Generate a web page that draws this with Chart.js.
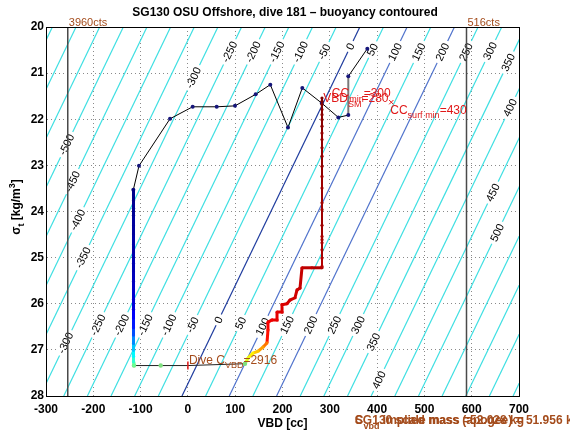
<!DOCTYPE html>
<html>
<head>
<meta charset="utf-8">
<script src="https://cdn.jsdelivr.net/npm/chart.js@4/dist/chart.umd.min.js"></script>
<style>
  html, body { margin: 0; padding: 0; background: #fff; }
  #chart { display: block; }
</style>
</head>
<body>
<canvas id="chart" width="570" height="439"></canvas>
<script>
// axis ticks
const xTicks = [-300, -200, -100, 0, 100, 200, 300, 400, 500, 600, 700];
const yTicks = [20, 21, 22, 23, 24, 25, 26, 27, 28];

// buoyancy contour levels [g]; a contour crosses sigma 28 at level + offset and leans by slope cc per kg/m3
const contourLevels = [-650, -600, -550, -500, -450, -400, -350, -300, -250, -200, -150, -100, -50,
    0, 50, 100, 150, 200, 250, 300, 350, 400, 450, 500, 550, 600, 650, 700];
const contourOffset = -12.5;
const contourSlope = 47;
// contour labels: [level, sigma where the label sits]
const contourLabels = [
    [-300, 21.10], [-250, 20.54], [-200, 20.54], [-150, 20.54], [-100, 20.54], [-50, 20.54],
    [0, 20.42], [50, 20.49], [100, 20.54], [150, 20.54], [200, 20.54], [250, 20.54], [300, 20.52],
    [350, 20.77], [400, 21.75], [450, 23.59], [500, 24.46],
    [-500, 22.55], [-450, 23.35], [-400, 24.18], [-350, 25.0], [-300, 26.85],
    [-250, 26.46], [-200, 26.46], [-150, 26.46], [-100, 26.46], [-50, 26.46], [0, 26.35],
    [50, 26.42], [100, 26.5], [150, 26.46], [200, 26.46], [250, 26.46], [300, 26.46],
    [350, 26.83], [400, 27.65]
];

// VBD count limits
const limitVbd = [-254, 589];
const limitNames = ["3960cts", "516cts"];

// black profile with dots
const profileVbd = [-115.4, -103.4, -37.8, 10.1, 60.9, 99.6, 143.3, 174.2, 211.6, 241.9, 282.9, 318.0, 339.1, 339.1, 379.3];
const profileSigma = [23.53, 23.01, 21.99, 21.73, 21.73, 21.71, 21.46, 21.25, 22.18, 21.32, 21.65, 21.96, 21.91, 21.07, 20.47];

// dive, coloured by time (0..1, jet)
const descentVbd = [-115, -115, -115, -115, -115, -115, -115, -115, -115, -115, -115, -115, -115,
    -115, -115, -115, -115, -115, -115, -115, -115, -115, -114];
const descentSigma = [23.53, 23.64, 23.76, 23.93, 24.08, 24.31, 24.49, 24.72, 24.88, 25.13, 25.29, 25.52,
    25.68, 25.91, 26.12, 26.31, 26.52, 26.68, 26.86, 27.01, 27.14, 27.26, 27.34];
const descentTime = [0.0, 0.01, 0.01, 0.02, 0.02, 0.03, 0.03, 0.04, 0.04, 0.05, 0.05, 0.06,
    0.07, 0.08, 0.09, 0.12, 0.15, 0.2, 0.26, 0.32, 0.37, 0.42, 0.48];

const apogeeVbd = [-114, -57.5, 0, 120.7];
const apogeeSigma = [27.34, 27.34, 27.34, 27.30];

const ascentVbd = [120.7, 127.0, 137.6, 148.2, 158.8, 167.2, 169.3, 169.3, 177.8, 188.4, 188.4, 199.0, 199.0,
    209.5, 215.9, 226.4, 230.7, 237.0, 241.2, 262.0, 283.5, 283.5, 283.5, 283.5, 283.5, 283.5, 283.5,
    283.5, 283.5, 283.5, 283.5, 283.5, 283.5, 283.5, 283.5, 283.5, 283.5, 283.5, 283.5, 283.5, 283.5,
    283.5, 283.5, 283.5];
const ascentSigma = [27.30, 27.18, 27.07, 27.03, 26.94, 26.85, 26.57, 26.40, 26.35, 26.35, 26.18, 26.18, 26.02,
    26.00, 25.92, 25.87, 25.70, 25.66, 25.22, 25.22, 25.22, 25.19, 25.01, 24.83, 24.68, 24.61, 24.54,
    24.30, 23.96, 23.81, 23.49, 23.24, 23.02, 22.80, 22.62, 22.44, 22.30, 22.15, 22.01, 21.90, 21.79,
    21.68, 21.61, 21.54];
const ascentTime = [0.5, 0.6, 0.64, 0.68, 0.72, 0.76, 0.86, 0.88, 0.89, 0.9, 0.9, 0.91, 0.91,
    0.91, 0.92, 0.92, 0.92, 0.93, 0.93, 0.94, 0.95, 0.95, 0.95, 0.96, 0.96, 0.96, 0.96,
    0.97, 0.97, 0.97, 0.97, 0.97, 0.98, 0.98, 0.98, 0.98, 0.98, 0.99, 0.99, 0.99, 0.99,
    1.0, 1.0, 1.0];

// surface minimum marker
const ccSurfMin = [430, 21.63];

const FONT = '"Liberation Sans", Arial, Helvetica, sans-serif';
const BROWN = "#a44c1c";
const RED = "#e01818";

function jet(t) {
    const c = (v) => Math.round(Math.max(0, Math.min(1, v)) * 255);
    const r = c(Math.min(4 * t - 1.5, -4 * t + 4.5));
    const g = c(Math.min(4 * t - 0.5, -4 * t + 3.5));
    const b = c(Math.min(4 * t + 0.5, -4 * t + 2.5));
    return `rgb(${r},${g},${b})`;
}

function contourVbd(level, sigma) {
    return level + contourOffset + contourSlope * (28 - sigma);
}

function contourColor(level) {
    if (level === 0) return "#1f3c9e";
    if (level === 100 || level === 200) return "#5073cc";
    return "#3fdfe2";
}

function toPoints(xs, ys) {
    return xs.map((x, i) => ({x: x, y: ys[i]}));
}

// draws text made of parts: {t, sub, sup}
function drawRich(ctx, parts, x, y, size, weight, color) {
    const big = `${weight} ${size}px ${FONT}`;
    const small = `${weight} ${Math.round(size * 0.75)}px ${FONT}`;
    ctx.fillStyle = color;
    ctx.textAlign = "left";
    ctx.textBaseline = "alphabetic";
    let cx = x;
    parts.forEach((p) => {
        ctx.font = (p.sub || p.sup) ? small : big;
        const dy = p.sub ? size * 0.35 : (p.sup ? -size * 0.4 : 0);
        ctx.fillText(p.t, cx, y + dy);
        cx += ctx.measureText(p.t).width;
    });
    return cx - x;
}

const datasets = [];

contourLevels.forEach((level) => {
    datasets.push({
        data: [{x: contourVbd(level, 20), y: 20}, {x: contourVbd(level, 28), y: 28}],
        showLine: true,
        borderColor: contourColor(level),
        borderWidth: 1.2,
        pointRadius: 0,
        order: 3
    });
});

limitVbd.forEach((v) => {
    datasets.push({
        data: [{x: v, y: 20}, {x: v, y: 28}],
        showLine: true,
        borderColor: "#4a4a4a",
        borderWidth: 1.5,
        pointRadius: 0,
        order: 2
    });
});

datasets.push({
    data: toPoints(profileVbd, profileSigma),
    showLine: true,
    borderColor: "#000",
    borderWidth: 1,
    segment: {
        borderColor: (ctx) => ctx.p0.parsed.x === ctx.p1.parsed.x ? "#7a7a7a" : undefined,
        borderWidth: (ctx) => ctx.p0.parsed.x === ctx.p1.parsed.x ? 2 : undefined
    },
    pointRadius: 2,
    pointBackgroundColor: "#16167a",
    pointBorderWidth: 0,
    order: 1
});

datasets.push({
    data: toPoints(descentVbd, descentSigma),
    showLine: true,
    borderWidth: 3,
    segment: {
        borderColor: (ctx) => jet(descentTime[ctx.p1DataIndex])
    },
    pointRadius: 1.6,
    pointBackgroundColor: descentTime.map(jet),
    pointBorderWidth: 0,
    order: 0
});

datasets.push({
    data: toPoints(apogeeVbd, apogeeSigma),
    showLine: true,
    borderColor: "#222",
    borderWidth: 1,
    pointStyle: ["circle", "circle", "line", "circle"],
    pointRotation: [0, 0, 90, 0],
    pointRadius: [2.2, 2.2, 4, 2.2],
    pointBackgroundColor: ["#7fe07f", "#7fe07f", RED, "#7fe07f"],
    pointBorderColor: ["#7fe07f", "#7fe07f", RED, "#7fe07f"],
    pointBorderWidth: [0, 0, 1.5, 0],
    order: 0
});

datasets.push({
    data: toPoints(ascentVbd, ascentSigma),
    showLine: true,
    borderWidth: 3,
    segment: {
        borderColor: (ctx) => jet(ascentTime[ctx.p1DataIndex]),
        borderWidth: (ctx) => ctx.p0.parsed.x === ctx.p1.parsed.x && ctx.p0DataIndex > 18 ? 2 : undefined
    },
    pointRadius: 1.6,
    pointBackgroundColor: ascentTime.map(jet),
    pointBorderWidth: 0,
    order: 0
});

datasets.push({
    data: [{x: ccSurfMin[0], y: ccSurfMin[1]}],
    pointStyle: "crossRot",
    pointRadius: 3,
    borderColor: RED,
    borderWidth: 1,
    order: 0
});

const decorPlugin = {
    id: "decor",
    afterDatasetDraw(chart, args) {
        // contour labels after the last contour line is drawn
        if (args.index !== 0) return;
        const {ctx, chartArea, scales: {x, y}} = chart;
        ctx.save();
        ctx.beginPath();
        ctx.rect(chartArea.left, chartArea.top, chartArea.right - chartArea.left, chartArea.bottom - chartArea.top);
        ctx.clip();
        ctx.font = `11px ${FONT}`;
        ctx.textAlign = "center";
        ctx.textBaseline = "middle";
        contourLabels.forEach(([level, sigma]) => {
            const px = x.getPixelForValue(contourVbd(level, sigma));
            const py = y.getPixelForValue(sigma);
            const qx = x.getPixelForValue(contourVbd(level, sigma - 1));
            const qy = y.getPixelForValue(sigma - 1);
            const text = String(level);
            const w = ctx.measureText(text).width;
            ctx.save();
            ctx.translate(px, py);
            ctx.rotate(Math.atan2(qy - py, qx - px));
            ctx.fillStyle = "#fff";
            ctx.fillRect(-w / 2 - 3, -3.5, w + 6, 7);
            ctx.fillStyle = "#000";
            ctx.fillText(text, 0, 0.5);
            ctx.restore();
        });
        ctx.restore();
    },
    afterDraw(chart) {
        const {ctx, chartArea, scales: {x, y}} = chart;
        ctx.save();
        ctx.strokeStyle = "#000";
        ctx.lineWidth = 1;
        ctx.strokeRect(chartArea.left + 0.5, chartArea.top + 0.5,
            chartArea.right - chartArea.left, chartArea.bottom - chartArea.top);

        // title
        ctx.fillStyle = "#000";
        ctx.font = `bold 12px ${FONT}`;
        ctx.textAlign = "center";
        ctx.textBaseline = "middle";
        ctx.fillText("SG130 OSU Offshore, dive 181 \u2013 buoyancy contoured", 285, 13);

        // y axis title, rotated
        ctx.save();
        ctx.translate(16, 207);
        ctx.rotate(-Math.PI / 2);
        ctx.font = `bold 12px ${FONT}`;
        const parts = [{t: "\u03c3"}, {t: "t", sub: true}, {t: " [kg/m"}, {t: "3", sup: true}, {t: "]"}];
        let w = 0;
        parts.forEach((p) => {
            ctx.font = (p.sub || p.sup) ? `bold 9px ${FONT}` : `bold 12px ${FONT}`;
            w += ctx.measureText(p.t).width;
        });
        drawRich(ctx, parts, -w / 2, 4, 12, "bold", "#000");
        ctx.restore();

        // VBD count limits
        ctx.font = `11px ${FONT}`;
        ctx.fillStyle = BROWN;
        ctx.textAlign = "left";
        ctx.textBaseline = "alphabetic";
        limitVbd.forEach((v, i) => {
            ctx.fillText(limitNames[i], x.getPixelForValue(v) + 1, chartArea.top - 1);
        });

        // red annotations
        drawRich(ctx, [{t: "CC"}, {t: "min", sub: true}, {t: "=300"}],
            x.getPixelForValue(300) + 2, y.getPixelForValue(21.44) + 4, 12, "normal", RED);
        drawRich(ctx, [{t: "VBD"}, {t: "SM", sub: true}, {t: "=280"}],
            x.getPixelForValue(280) + 3, y.getPixelForValue(21.55) + 4, 12, "normal", RED);
        drawRich(ctx, [{t: "CC"}, {t: "surf min", sub: true}, {t: "=430"}],
            x.getPixelForValue(430) - 1, y.getPixelForValue(21.79) + 4, 12, "normal", RED);

        // brown annotations
        drawRich(ctx, [{t: "Dive C"}, {t: "VBD", sub: true}, {t: "=2916"}],
            x.getPixelForValue(0) + 1, y.getPixelForValue(27.21) + 4, 12, "normal", BROWN);
        drawRich(ctx, [{t: "SG130 scale mass =52.028 kg"}],
            x.getPixelForValue(353), y.getPixelForValue(28.53) + 4, 12, "bold", BROWN);
        drawRich(ctx, [{t: "C"}, {t: "vbd", sub: true}, {t: " implied mass (apogee) = 51.956 kg"}],
            x.getPixelForValue(353), y.getPixelForValue(28.53) + 4, 12, "bold", BROWN);
        ctx.restore();
    }
};

new Chart(document.getElementById("chart"), {
    type: "scatter",
    data: {datasets: datasets},
    options: {
        responsive: false,
        animation: false,
        devicePixelRatio: 1,
        events: [],
        layout: {
            padding: {top: 27, right: 51, left: 0, bottom: 0}
        },
        scales: {
            x: {
                type: "linear",
                min: -300,
                max: 700,
                afterBuildTicks: (s) => { s.ticks = xTicks.map((v) => ({value: v})); },
                afterFit: (s) => { s.height = 43; },
                ticks: {
                    padding: 6,
                    color: "#000",
                    font: {family: FONT, size: 12, weight: "bold"}
                },
                grid: {color: "#8a8a8a", lineWidth: 1, drawTicks: false},
                border: {display: true, color: "#000", dash: [1, 3]},
                title: {
                    display: true,
                    text: "VBD [cc]",
                    color: "#000",
                    font: {family: FONT, size: 12, weight: "bold"},
                    padding: {top: 0, bottom: 8}
                }
            },
            y: {
                type: "linear",
                min: 20,
                max: 28,
                reverse: true,
                afterBuildTicks: (s) => { s.ticks = yTicks.map((v) => ({value: v})); },
                afterFit: (s) => { s.width = 46; },
                ticks: {
                    padding: 2,
                    color: "#000",
                    font: {family: FONT, size: 12, weight: "bold"}
                },
                grid: {color: "#8a8a8a", lineWidth: 1, drawTicks: false},
                border: {display: true, color: "#000", dash: [1, 3]}
            }
        },
        plugins: {
            legend: {display: false},
            tooltip: {enabled: false},
            title: {display: false}
        }
    },
    plugins: [decorPlugin]
});
</script>
</body>
</html>
